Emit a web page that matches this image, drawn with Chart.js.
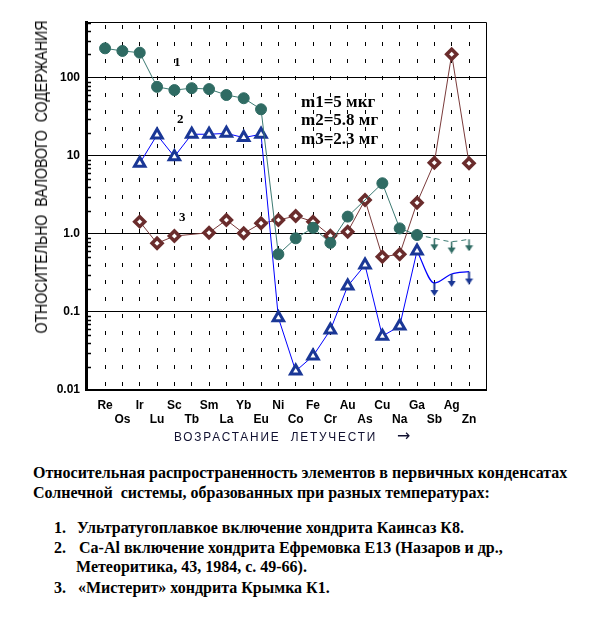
<!DOCTYPE html>
<html>
<head>
<meta charset="utf-8">
<script src="https://cdn.jsdelivr.net/npm/chart.js@4.4.0/dist/chart.umd.min.js"></script>
<style>
  body { margin: 0; background: #fff; width: 607px; height: 621px; position: relative; overflow: hidden; }
  #wrap { position: absolute; left: 0; top: 0; width: 607px; height: 450px; }
  .t { position: absolute; white-space: pre; line-height: 20px; color: #000; }
  .serif { font-family: "Liberation Serif", "Times New Roman", serif; font-weight: bold; font-size: 16px; }
  .sans { font-family: "Liberation Sans", Arial, sans-serif; }
</style>
</head>
<body>
<div id="wrap"><canvas id="c" width="607" height="450"></canvas></div>

<div class="t sans" id="ytitle" style="left:42px;top:177px;font-size:17px;">ОТНОСИТЕЛЬНО  ВАЛОВОГО  СОДЕРЖАНИЯ</div>
<div class="t sans" id="xtitle" style="left:174px;top:427px;font-size:13px;letter-spacing:2px;color:#101030;">ВОЗРАСТАНИЕ  ЛЕТУЧЕСТИ</div>
<div class="t" style="left:397px;top:426px;font-family:'DejaVu Sans';font-size:16px;color:#101030;">→</div>

<div class="t serif" style="left:174px;top:52px;font-size:13px;">1</div>
<div class="t serif" style="left:177px;top:109px;font-size:13px;">2</div>
<div class="t serif" style="left:179px;top:207px;font-size:13px;">3</div>

<div class="t serif" style="left:301px;top:92px;font-size:17px;">m1=5 мкг</div>
<div class="t serif" style="left:301px;top:110px;font-size:17px;">m2=5.8 мг</div>
<div class="t serif" style="left:301px;top:129px;font-size:17px;">m3=2.3 мг</div>

<div class="t serif" style="left:33px;top:463px;">Относительная распространенность элементов в первичных конденсатах</div>
<div class="t serif" style="left:33px;top:483px;">Солнечной  системы, образованных при разных температурах:</div>
<div class="t serif" style="left:54px;top:518px;">1.</div>
<div class="t serif" style="left:77px;top:518px;">Ультратугоплавкое включение хондрита Каинсаз К8.</div>
<div class="t serif" style="left:54px;top:538px;">2.</div>
<div class="t serif" style="left:79px;top:538px;">Са-Al включение хондрита Ефремовка Е13 (Назаров и др.,</div>
<div class="t serif" style="left:76px;top:557px;">Метеоритика, 43, 1984, с. 49-66).</div>
<div class="t serif" style="left:54px;top:578px;">3.</div>
<div class="t serif" style="left:78px;top:578px;">«Мистерит» хондрита Крымка К1.</div>

<script>
// elements, in order of increasing volatility
const elements = ['Re', 'Os', 'Ir', 'Lu', 'Sc', 'Tb', 'Sm', 'La', 'Yb', 'Eu',
                  'Ni', 'Co', 'Fe', 'Cr', 'Au', 'As', 'Cu', 'Na', 'Ga', 'Sb', 'Ag', 'Zn'];

// 1 - ultra-refractory inclusion, Kainsaz K8
const series1 = [240, 222, 211, 77, 70, 74, 72, 60.5, 55, 39.7,
                 0.55, 0.88, 1.20, 0.77, 1.67, null, 4.47, 1.18, 0.97, null, null, null];
const series1Limit = [null, null, null, null, null, null, null, null, null, null,
                      null, null, null, null, null, null, null, null, 0.97, 0.88, 0.80, 0.855];

// 2 - Ca-Al inclusion, Efremovka E13
const series2 = [null, null, 8.06, 18.6, 9.8, 19, 19, 19.5, 17.2, 19,
                 0.0845, 0.0175, 0.0273, 0.0588, 0.215, 0.40, 0.049, 0.066, 0.605, null, null, null];
const series2Limit = [null, null, null, null, null, null, null, null, null, null,
                      null, null, null, null, null, null, null, null, 0.605, 0.235, 0.307, 0.33];

// 3 - "misterite", Krymka K1
const series3 = [null, null, 1.44, 0.76, 0.94, null, 1.04, 1.51, 1.02, 1.37,
                 1.51, 1.70, 1.44, 0.95, 1.07, 2.73, 0.51, 0.55, 2.52, 8.2, 201, 8.06];

const yTickLabels = ['0.01', '0.1', '1.0', '10', '100'];

const toPoints = arr => arr.map((v, i) => ({ x: i, y: v }));
const isDecade = v => Math.abs(Math.log10(v) - Math.round(Math.log10(v))) < 1e-6;
const gaIndex = elements.indexOf('Ga');

function arrow(color, len, w) {
  const c = document.createElement('canvas');
  c.width = 9; c.height = len * 2;
  const g = c.getContext('2d');
  g.strokeStyle = color; g.fillStyle = color; g.lineWidth = w;
  g.beginPath(); g.moveTo(4.5, len); g.lineTo(4.5, 2 * len - 3); g.stroke();
  g.beginPath(); g.moveTo(0.5, 2 * len - 6); g.lineTo(8.5, 2 * len - 6); g.lineTo(4.5, 2 * len); g.closePath(); g.fill();
  return c;
}
const greenArrow = arrow('#2f6b63', 12, 1.5);
const blueArrow = arrow('#1a3796', 13, 2);

const frame = {
  id: 'frame',
  afterDraw(chart) {
    const { ctx, chartArea: a, scales: { y } } = chart;
    ctx.save();
    ctx.strokeStyle = '#000';
    ctx.lineWidth = 1;
    ctx.beginPath();
    ctx.moveTo(a.left, a.top + 0.5);
    ctx.lineTo(a.right + 0.5, a.top + 0.5);
    ctx.lineTo(a.right + 0.5, a.bottom);
    ctx.stroke();
    ctx.lineWidth = 1.5;
    y.ticks.forEach(t => {
      const m = t.value / Math.pow(10, Math.floor(Math.log10(t.value) + 1e-9));
      if (isDecade(t.value) || Math.abs(m - Math.round(m)) > 1e-6) return;
      const py = Math.round(y.getPixelForValue(t.value)) + 0.5;
      ctx.beginPath(); ctx.moveTo(a.left, py); ctx.lineTo(a.left + 5, py); ctx.stroke();
    });
    ctx.restore();
  }
};

const tickFont = { family: '"Liberation Sans", Arial, sans-serif', size: 12, weight: 'bold' };

new Chart(document.getElementById('c'), {
  type: 'line',
  data: {
    datasets: [
      {
        data: toPoints(series1),
        borderColor: '#3c7a72', borderWidth: 1,
        pointBackgroundColor: '#2f6b63', pointBorderColor: '#2f6b63',
        pointRadius: 5.5, pointBorderWidth: 1, spanGaps: true
      },
      {
        data: toPoints(series1Limit),
        borderColor: '#3c7a72', borderWidth: 1, borderDash: [5, 4],
        cubicInterpolationMode: 'monotone',
        pointStyle: greenArrow,
        pointRadius: c => c.dataIndex === gaIndex ? 0 : 6
      },
      {
        data: toPoints(series2),
        borderColor: '#0000ff', borderWidth: 1,
        pointStyle: 'triangle', pointRadius: 6, pointBorderWidth: 3,
        pointBorderColor: '#1a3796', pointBackgroundColor: '#fff'
      },
      {
        data: toPoints(series2Limit),
        borderColor: '#0000ff', borderWidth: 1.2,
        cubicInterpolationMode: 'monotone',
        pointStyle: blueArrow,
        pointRadius: c => c.dataIndex === gaIndex ? 0 : 6
      },
      {
        data: toPoints(series3),
        borderColor: '#7a3a3a', borderWidth: 1,
        pointStyle: 'rectRot', pointRadius: 5, pointBorderWidth: 3.5,
        pointBorderColor: '#6a2c2c', pointBackgroundColor: '#fff', spanGaps: true
      }
    ]
  },
  options: {
    responsive: false,
    animation: false,
    layout: { padding: { top: 22, right: 121, left: 0, bottom: 0 } },
    plugins: { legend: { display: false }, tooltip: { enabled: false } },
    scales: {
      x: {
        type: 'linear', min: -1.1, max: 21.98,
        afterFit: s => { s.height = 60; },
        grid: {
          color: c => Number.isInteger(c.tick.value) ? '#000' : 'transparent',
          lineWidth: 1, drawTicks: false
        },
        border: { color: '#000', width: 2, dash: [4, 13], dashOffset: 14 },
        ticks: {
          stepSize: 1, includeBounds: false, autoSkip: false, maxRotation: 0, minRotation: 0, padding: 8,
          color: '#000', font: tickFont,
          callback: v => Number.isInteger(v) && elements[v]
            ? (v % 2 === 0 ? [elements[v], ''] : ['', elements[v]]) : ''
        }
      },
      y: {
        type: 'logarithmic', min: 0.01, max: 522,
        afterFit: s => { s.width = 86; },
        grid: {
          color: c => isDecade(c.tick.value) ? '#000' : 'transparent',
          lineWidth: 1, drawTicks: false
        },
        border: { color: '#000', width: 3 },
        ticks: {
          autoSkip: false, padding: 6, color: '#000', font: tickFont,
          callback: v => isDecade(v) ? yTickLabels[Math.round(Math.log10(v)) + 2] : ''
        }
      }
    }
  },
  plugins: [frame]
});

// squeeze the axis titles to the width they take in the original
function fit(el, target, rotate) {
  const k = target / el.scrollWidth;
  el.style.transform = rotate
    ? 'translate(-50%,-50%) rotate(-90deg) scale(' + k + ',1)'
    : 'scale(' + k + ',1)';
  el.style.transformOrigin = rotate ? 'center center' : 'left center';
}
fit(document.getElementById('ytitle'), 313, true);
fit(document.getElementById('xtitle'), 203, false);
</script>
</body>
</html>
